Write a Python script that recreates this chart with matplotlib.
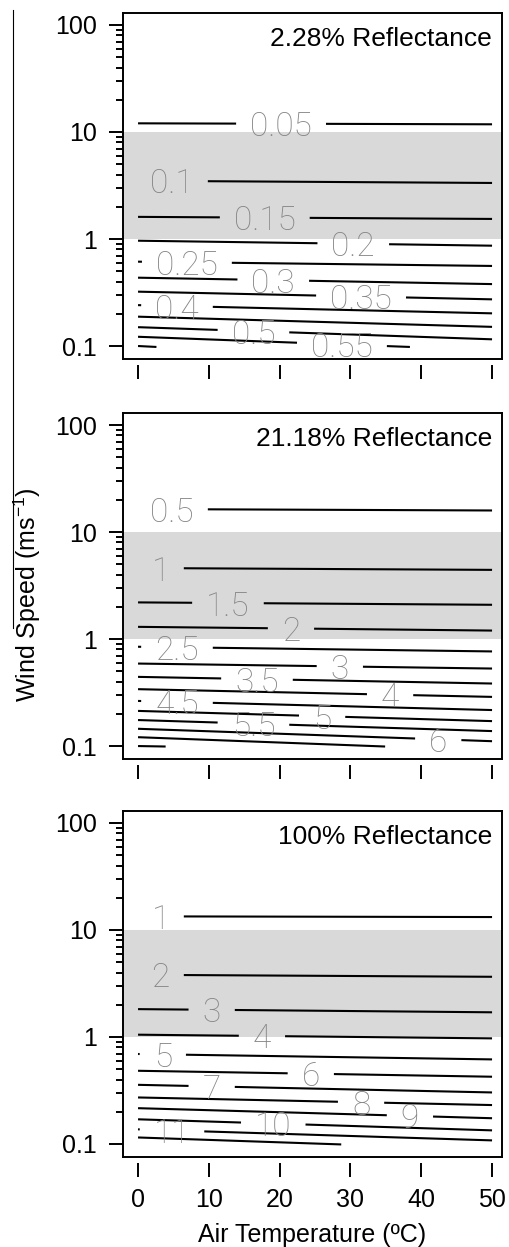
import numpy as np
import matplotlib
matplotlib.use("Agg")
import matplotlib.pyplot as plt
from matplotlib.lines import Line2D
from matplotlib.ticker import FixedLocator, NullFormatter

plt.rcParams['font.family'] = ['Liberation Sans', 'DejaVu Sans']

# --- data ---------------------------------------------------------------
# each contour: wind speed at T=0, wind speed at the end of the line,
# temperature where the line ends, temperature of the label (nan = no label)
titles = ['2.28% Reflectance', '21.18% Reflectance', '100% Reflectance']

levels_a = ['0.05', '0.1', '0.15', '0.2', '0.25', '0.3', '0.35', '0.4', '0.45', '0.5', '0.55', '0.6']
u_start_a = [12.05, 3.50, 1.61, 0.964, 0.614, 0.435, 0.322, 0.241, 0.188, 0.150, 0.122, 0.100]
u_end_a = [11.8, 3.34, 1.54, 0.866, 0.560, 0.379, 0.273, 0.202, 0.151, 0.1155, 0.098, 0.098]
t_end_a = [50, 50, 50, 50, 50, 50, 50, 50, 50, 50, 38.4, 2.6]
lab_t_a = [20.2, 4.8, 17.9, 30.4, 6.9, 19.1, 31.5, 5.5, np.nan, 16.3, 28.8, np.nan]

levels_b = ['0.5', '1', '1.5', '2', '2.5', '3', '3.5', '4', '4.5', '5', '5.5', '6', '6.5', '7']
u_start_b = [16.4, 4.61, 2.20, 1.30, 0.847, 0.590, 0.443, 0.340, 0.264, 0.213, 0.175, 0.145, 0.121, 0.100]
u_end_b = [15.9, 4.43, 2.09, 1.20, 0.766, 0.530, 0.384, 0.288, 0.217, 0.171, 0.138, 0.111, 0.099, 0.099]
t_end_b = [50, 50, 50, 50, 50, 50, 50, 50, 50, 50, 50, 50, 34.9, 3.9]
lab_t_b = [4.8, 3.2, 12.7, 21.6, 5.5, 28.5, 16.8, 35.6, 5.5, 26.0, 16.3, 42.4, np.nan, np.nan]

levels_c = ['1', '2', '3', '4', '5', '6', '7', '8', '9', '10', '11', '12']
u_start_c = [13.4, 3.81, 1.82, 1.05, 0.693, 0.483, 0.357, 0.272, 0.216, 0.170, 0.137, 0.115]
u_end_c = [13.2, 3.65, 1.70, 0.97, 0.617, 0.425, 0.303, 0.231, 0.174, 0.134, 0.108, 0.099]
t_end_c = [50, 50, 50, 50, 50, 50, 50, 50, 50, 50, 50, 28.7]
lab_t_c = [3.2, 3.2, 10.4, 17.5, 3.5, 24.4, 10.4, 31.5, 38.4, 19.1, 4.8, np.nan]

band = (1, 10)
x_ticks = [0, 10, 20, 30, 40, 50]
y_ticks = [0.1, 1, 10, 100]
y_minor = [m * d for d in (0.1, 1, 10) for m in range(2, 10)]

panels = [
    (levels_a, u_start_a, u_end_a, t_end_a, lab_t_a),
    (levels_b, u_start_b, u_end_b, t_end_b, lab_t_b),
    (levels_c, u_start_c, u_end_c, t_end_c, lab_t_c),
]

fig = plt.figure(figsize=(5.09, 12.47), dpi=100)
renderer = fig.canvas.get_renderer()
bottoms = [0.7121, 0.3913, 0.0722]
LW = 1.5


def seg(ax, t0, t1, f):
    ax.plot([t0, t1], [f(t0), f(t1)], color='black', lw=LW, solid_capstyle='butt')


def draw_contours(ax, levels, u0, u1, t_end, lab_t):
    for lev, a, b, te, lt in zip(levels, u0, u1, t_end, lab_t):
        la, lb = np.log10(a), np.log10(b)

        def u_at(t, la=la, lb=lb, te=te):
            return 10 ** (la + (lb - la) * t / te)

        if np.isnan(lt):
            seg(ax, 0, te, u_at)
            continue
        txt = ax.text(lt, u_at(lt), lev, ha='center', va='center_baseline',
                      fontsize=24, color='#858585', family=['Roboto', 'DejaVu Sans'],
                      fontweight='light', zorder=3)
        bb = txt.get_window_extent(renderer)
        inv = ax.transData.inverted()
        x_l = inv.transform((bb.x0 - 14, bb.y0))[0]
        x_r = inv.transform((bb.x1 + 14, bb.y0))[0]
        if x_l > 0:
            seg(ax, 0, max(x_l, 0.15), u_at)
        if x_r < te:
            seg(ax, x_r, te, u_at)


for i, (title, data) in enumerate(zip(titles, panels)):
    ax = fig.add_axes([0.2417, bottoms[i], 0.7446, 0.2775])
    ax.set_yscale('log')
    ax.set_xlim(-2.12, 51.41)
    ax.set_ylim(0.0756, 129.5)
    ax.axhspan(band[0], band[1], color='#d9d9d9', lw=0, zorder=0)

    draw_contours(ax, *data)

    ax.text(50, 0.925, title, ha='right', va='center', fontsize=19,
            transform=ax.get_xaxis_transform())

    # frame: bottom axis offset like the original
    for s in ['left', 'right', 'top']:
        ax.spines[s].set_linewidth(1.4)
    ax.spines['bottom'].set_position(('outward', 4))
    ax.spines['bottom'].set_visible(False)
    ax.plot([0, 1], [0, 0], transform=ax.transAxes, color='black', lw=1.4,
            clip_on=False, solid_capstyle='projecting')

    ax.set_xticks(x_ticks)
    ax.set_yticks(y_ticks)
    ax.set_yticklabels(['0.1', '1', '10', '100'])
    ax.yaxis.set_minor_locator(FixedLocator(y_minor))
    ax.yaxis.set_minor_formatter(NullFormatter())
    ax.tick_params(axis='both', which='major', direction='out', length=10, width=1.4,
                   labelsize=18)
    ax.tick_params(axis='y', which='major', pad=9)
    ax.tick_params(axis='y', which='minor', direction='out', length=5, width=1.4)
    ax.tick_params(axis='x', pad=8)
    if i < 2:
        ax.set_xticklabels([])
    else:
        ax.set_xticklabels([str(t) for t in x_ticks])
        ax.set_xlabel('Air Temperature (ºC)', fontsize=18, labelpad=8)

fig.text(27 / 509, 1 - 595 / 1247, 'Wind Speed (ms$\\mathregular{^{-1}}$)', rotation=90,
         ha='center', va='center', fontsize=18)
fig.add_artist(Line2D([13 / 509, 13 / 509], [1 - 10 / 1247, 1 - 628 / 1247],
                      color='black', lw=0.8))

fig.savefig('out.png', dpi=100)
